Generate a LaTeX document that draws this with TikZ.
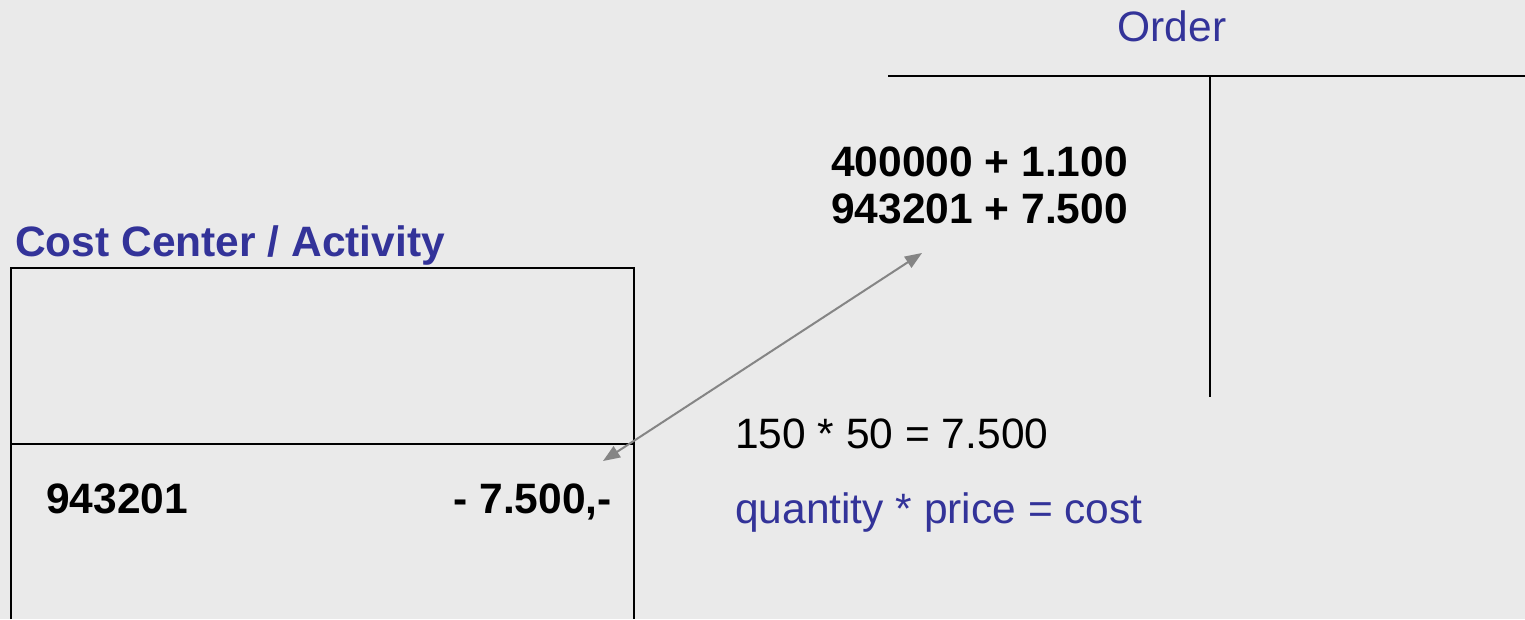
\documentclass[tikz,border=0pt]{standalone}
\usepackage{fontspec}
\setmainfont{Liberation Sans}
\usetikzlibrary{arrows.meta}
\definecolor{bg}{HTML}{EAEAEA}
\definecolor{titleblue}{HTML}{333399}
\definecolor{arrowgrey}{HTML}{858585}
\tikzset{
  txt/.style={anchor=base west, inner sep=0pt, font=\fontsize{42.5}{48}\selectfont},
  btxt/.style={txt, font=\fontsize{42.5}{48}\selectfont\bfseries},
  acct/.style={draw=black, line width=2pt},
  link/.style={draw=arrowgrey, line width=2pt, {Triangle[length=17pt,width=13pt]}-{Triangle[length=17pt,width=13pt]}}
}
\begin{document}
\begin{tikzpicture}[x=1pt,y=1pt]
\fill[bg] (0,0) rectangle (1525,619);
\useasboundingbox (0,0) rectangle (1525,619);
% Order T-account
\node[txt, anchor=base, text=titleblue] (order) at (1172,577) {Order};
\draw[acct] (888,543) -- (1525,543);
\draw[acct, line width=2.5pt] (1210,543) -- (1210,286);
\draw[acct, line width=1.5pt] (1210,286) -- (1210,222);
\node[btxt] (l1) at (831,442) {400000 + 1.100};
\node[btxt] (l2) at (831,395) {943201 + 7.500};
% Cost center account
\node[btxt, text=titleblue] (cc) at (15,362) {Cost Center / Activity};
\draw[acct] (11,0) -- (11,351) -- (634,351) -- (634,0);
\draw[acct] (11,175) -- (634,175);
\node[btxt] (n1) at (46,106) {943201};
\node[btxt, anchor=base east] (n2) at (612,106) {- 7.500,-};
% formula
\node[txt] (f1) at (735,171) {150 * 50 = 7.500};
\node[txt, text=titleblue] (f2) at (735,96) {quantity * price = cost};
% arrow
\coordinate (a1) at (603,158);
\coordinate (a2) at (922,366);
\draw[link] (a1) -- (a2);
\end{tikzpicture}
\end{document}
